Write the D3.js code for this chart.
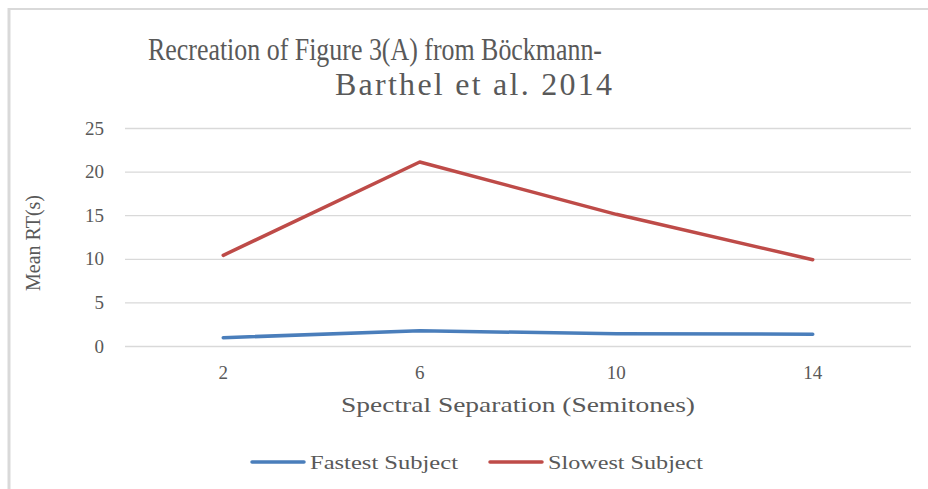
<!DOCTYPE html>
<html>
<head>
<meta charset="utf-8">
<script src="https://cdn.jsdelivr.net/npm/d3@7"></script>
<style>
  body { margin: 0; background: #fff; }
  text { font-family: "Liberation Serif", "DejaVu Serif", serif; fill: #595959; }
</style>
</head>
<body>
<svg id="chart" width="928" height="489"></svg>
<script>
// data
var categories = ["2", "6", "10", "14"];
var fastest = [0.95, 1.75, 1.4, 1.35];
var slowest = [10.4, 21.1, 15.1, 9.9];
var yTicks = [0, 5, 10, 15, 20, 25];
var seriesNames = ["Fastest Subject", "Slowest Subject"];
var seriesColors = ["#4a7ebb", "#be4b48"];

var svg = d3.select("#chart");

// outer chart frame (only the top and left edges are in view)
svg.append("line").attr("x1", 8).attr("x2", 928).attr("y1", 9).attr("y2", 9)
    .attr("stroke", "#d9d9d9").attr("stroke-width", 2);
svg.append("line").attr("x1", 9).attr("x2", 9).attr("y1", 8).attr("y2", 489)
    .attr("stroke", "#d9d9d9").attr("stroke-width", 3);

var plot = { left: 125, right: 911, top: 128, bottom: 346 };

var x = d3.scaleBand()
    .domain(categories)
    .range([plot.left, plot.right])
    .padding(0);

var y = d3.scaleLinear()
    .domain([0, 25])
    .range([plot.bottom, plot.top]);

// y axis with gridlines
var yAxis = svg.append("g")
    .attr("transform", "translate(" + plot.left + ",0)")
    .call(d3.axisLeft(y).tickValues(yTicks).tickSize(-(plot.right - plot.left)).tickPadding(21));
yAxis.select(".domain").remove();
yAxis.selectAll(".tick line").attr("stroke", "#d9d9d9").attr("stroke-width", 1.3);
yAxis.selectAll(".tick text")
    .attr("font-size", 19)
    .attr("font-family", "Liberation Serif")
    .attr("fill", "#595959");

// x axis labels only
var xAxis = svg.append("g")
    .attr("transform", "translate(0," + plot.bottom + ")")
    .call(d3.axisBottom(x).tickSize(0).tickPadding(20));
xAxis.select(".domain").remove();
xAxis.selectAll(".tick text")
    .attr("font-size", 19)
    .attr("font-family", "Liberation Serif")
    .attr("fill", "#595959");

// lines
var line = d3.line()
    .x(function(d, i) { return x(categories[i]) + x.bandwidth() / 2; })
    .y(function(d) { return y(d); });

[fastest, slowest].forEach(function(s, i) {
    svg.append("path")
        .datum(s)
        .attr("d", line)
        .attr("fill", "none")
        .attr("stroke", seriesColors[i])
        .attr("stroke-width", 3.5)
        .attr("stroke-linecap", "round")
        .attr("stroke-linejoin", "round");
});

// title
svg.append("text")
    .attr("x", 148).attr("y", 60)
    .attr("font-size", 32)
    .attr("textLength", 454).attr("lengthAdjust", "spacingAndGlyphs")
    .text("Recreation of Figure 3(A) from Böckmann-");
svg.append("text")
    .attr("x", 335).attr("y", 95)
    .attr("font-size", 32)
    .attr("textLength", 277).attr("lengthAdjust", "spacing")
    .text("Barthel et al. 2014");

// axis titles
svg.append("text")
    .attr("transform", "translate(40," + ((plot.top + plot.bottom) / 2 + 6) + ") rotate(-90)")
    .attr("text-anchor", "middle")
    .attr("font-size", 20)
    .text("Mean RT(s)");

svg.append("text")
    .attr("x", 518).attr("y", 412)
    .attr("text-anchor", "middle")
    .attr("font-size", 21)
    .attr("textLength", 354).attr("lengthAdjust", "spacingAndGlyphs")
    .text("Spectral Separation (Semitones)");

// legend
var legendX = [252, 490];
var legendTextW = [148, 155];
seriesNames.forEach(function(name, i) {
    var g = svg.append("g").attr("transform", "translate(" + legendX[i] + ",462)");
    g.append("line")
        .attr("x1", 0).attr("x2", 52)
        .attr("stroke", seriesColors[i])
        .attr("stroke-width", 3.5)
        .attr("stroke-linecap", "round");
    g.append("text")
        .attr("x", 58).attr("y", 6.5)
        .attr("font-size", 19)
        .attr("textLength", legendTextW[i]).attr("lengthAdjust", "spacingAndGlyphs")
        .text(name);
});
</script>
</body>
</html>
